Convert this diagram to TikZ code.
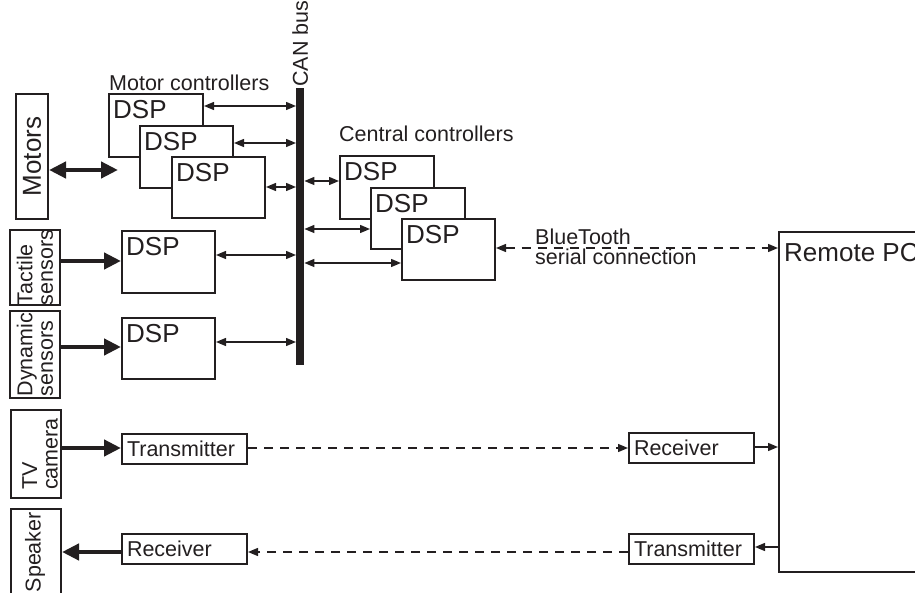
\documentclass[tikz,border=0pt]{standalone}
\usepackage{fontspec}
\setmainfont{Liberation Sans}
\usetikzlibrary{arrows.meta,calc}
\definecolor{ink}{RGB}{35,31,32}
\begin{document}
\begin{tikzpicture}[x=1pt,y=-1pt,
  every node/.style={text=ink},
  big/.style={font=\fontsize{26}{26}\selectfont},
  small/.style={font=\fontsize{21.5}{20.5}\selectfont},
  box/.style={draw=ink, line width=2pt, fill=white, inner sep=0pt, anchor=north west},
  dspbox/.style={box, label={[anchor=north west, inner sep=0pt, xshift=5pt, yshift=-7pt, big]north west:DSP}},
  txtbox/.style={box, small, minimum height=30pt, text width=115pt, align=left, inner xsep=5pt},
  rtext/.style={rotate=90, small, align=left, inner sep=0pt},
  biarrow/.style={draw=ink, line width=1.4pt, {Triangle[length=10pt,width=8pt]}-{Triangle[length=10pt,width=8pt]}},
  toarrow/.style={draw=ink, line width=1.4pt, -{Triangle[length=10pt,width=8pt]}},
  fatarrow/.style={draw=ink, line width=4.5pt, -{Triangle[length=17pt,width=16pt]}},
  dashln/.style={dash pattern=on 9pt off 7pt}
]
\useasboundingbox (0,0) rectangle (915,593);
\clip (0,0) rectangle (915,593);

% CAN bus
\node[anchor=north west, fill=ink, inner sep=0pt, minimum width=8pt, minimum height=277pt] (bus) at (296,88) {};
\node[rotate=90, anchor=west, small, inner sep=0pt, xshift=-3pt] (canlbl) at ([yshift=4pt]bus.north) {CAN bus};

% Motors
\node[box, minimum width=32pt, minimum height=125pt] (mot) at (15,93) {};
\node[rotate=90, big, inner sep=0pt] (motlbl) at (mot.center) {Motors};
\node[small, anchor=base west, inner sep=0pt] (mclbl) at (109,91) {Motor controllers};
\node[dspbox, minimum width=94pt, minimum height=63pt] (m1) at (108,93) {};
\node[dspbox, minimum width=93pt, minimum height=62pt] (m2) at (139,125) {};
\node[dspbox, minimum width=93pt, minimum height=61pt] (m3) at (171,156) {};
\coordinate (mend) at (118,170);
\draw[fatarrow, {Triangle[length=17pt,width=16pt]}-{Triangle[length=17pt,width=16pt]}] (mot.east |- 0,170) -- (mend);
\draw[biarrow] (m1.east |- 0,106) -- (bus.west |- 0,106);
\draw[biarrow] (m2.east |- 0,143) -- (bus.west |- 0,143);
\draw[biarrow] (m3.east |- 0,187) -- (bus.west |- 0,187);

% Tactile sensors
\node[box, minimum width=50pt, minimum height=75pt] (ts) at (9,229) {};
\node[rtext] (tslbl) at (ts.center) {Tactile\\sensors};
\node[dspbox, minimum width=93pt, minimum height=62pt] (t) at (121,230) {};
\draw[fatarrow] (ts.east |- 0,261) -- (t.west |- 0,261);
\draw[biarrow] (t.east |- 0,255) -- (bus.west |- 0,255);

% Dynamic sensors
\node[box, minimum width=50pt, minimum height=87pt] (ds) at (9,310) {};
\node[rtext] (dslbl) at (ds.center) {Dynamic\\sensors};
\node[dspbox, minimum width=93pt, minimum height=61pt] (d) at (121,317) {};
\draw[fatarrow] (ds.east |- 0,347) -- (d.west |- 0,347);
\draw[biarrow] (d.east |- 0,342) -- (bus.west |- 0,342);

% Central controllers
\node[small, anchor=base west, inner sep=0pt] (cclbl) at (339,142) {Central controllers};
\node[dspbox, minimum width=94pt, minimum height=63pt] (c1) at (339,155) {};
\node[dspbox, minimum width=94pt, minimum height=61pt] (c2) at (370,187) {};
\node[dspbox, minimum width=93pt, minimum height=61pt] (c3) at (401,218) {};
\draw[biarrow] (bus.east |- 0,181) -- (c1.west |- 0,181);
\draw[biarrow] (bus.east |- 0,229) -- (c2.west |- 0,229);
\draw[biarrow] (bus.east |- 0,263) -- (c3.west |- 0,263);

% Remote PC
\node[box, minimum width=200pt, minimum height=340pt,
  label={[anchor=north west, inner sep=0pt, xshift=6pt, yshift=-12pt, big]north west:Remote PC}] (pc) at (778,231) {};
\draw[biarrow, dashln] (c3.east |- 0,248) -- (pc.west |- 0,248);
\node[small, anchor=west, align=left, inner sep=0pt] (btlbl) at (535,247) {BlueTooth\\serial connection};

% TV camera
\node[box, minimum width=50pt, minimum height=88pt] (tv) at (10,409) {};
\node[rtext, yshift=-4pt] (tvlbl) at (tv.center) {TV\\camera};
\node[txtbox] (tx1) at (121,433) {Transmitter};
\node[txtbox] (rx1) at (628,432) {Receiver};
\draw[fatarrow] (tv.east |- 0,448) -- (tx1.west |- 0,448);
\draw[toarrow, dashln] (tx1.east |- 0,448) -- (rx1.west |- 0,448);
\draw[toarrow] (rx1.east |- 0,447) -- (pc.west |- 0,447);

% Speaker
\node[box, minimum width=50pt, minimum height=90pt] (sp) at (10,508) {};
\node[rotate=90, small, inner sep=0pt, anchor=east] (splbl) at (35,512) {Speaker};
\node[txtbox] (rx2) at (121,533) {Receiver};
\node[txtbox] (tx2) at (628,533) {Transmitter};
\draw[fatarrow] (rx2.west |- 0,552) -- (sp.east |- 0,552);
\draw[toarrow, dashln] (tx2.west |- 0,552) -- (rx2.east |- 0,552);
\draw[toarrow] (pc.west |- 0,547) -- (tx2.east |- 0,547);
\end{tikzpicture}
\end{document}
